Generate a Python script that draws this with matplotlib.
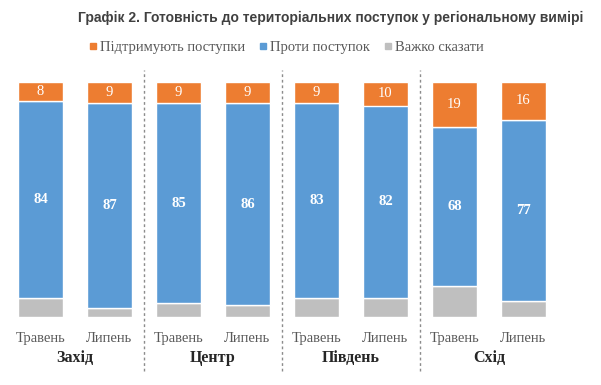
import matplotlib
matplotlib.use("Agg")
import matplotlib.pyplot as plt
from matplotlib.lines import Line2D

regions = ["Захід", "Центр", "Південь", "Схід"]
months = ["Травень", "Липень"]
support = [8, 9, 9, 9, 9, 10, 19, 16]
against = [84, 87, 85, 86, 83, 82, 68, 77]
hard = [8, 4, 6, 5, 8, 8, 13, 7]

c_support = "#ED7D31"
c_against = "#5B9BD5"
c_hard = "#BFBFBF"

fig = plt.figure(figsize=(6.01, 3.85), dpi=100)
ax = fig.add_axes([6 / 601, 68 / 385, 552 / 601, 235 / 385])
ax.set_xlim(-0.5, 7.5)
ax.set_ylim(0, 100)
ax.axis("off")

x = list(range(len(support)))
w = 0.65
ax.bar(x, hard, w, color=c_hard, edgecolor="white", linewidth=1)
bottom2 = hard
ax.bar(x, against, w, bottom=bottom2, color=c_against, edgecolor="white", linewidth=1)
bottom3 = [h + a for h, a in zip(hard, against)]
ax.bar(x, support, w, bottom=bottom3, color=c_support, edgecolor="white", linewidth=1)

for i in x:
    ax.text(i, hard[i] + against[i] / 2, str(against[i]), ha="center", va="center",
            color="white", fontsize=10.5, fontweight="bold", family="Liberation Serif")
    ax.text(i, bottom3[i] + support[i] / 2, str(support[i]), ha="center", va="center",
            color="white", fontsize=10.5, family="Liberation Serif")
    ax.text(i, -9, months[i % 2], ha="center", va="center", color="#595959",
            fontsize=10.5, family="Liberation Serif")

for g, name in enumerate(regions):
    ax.text(2 * g + 0.5, -17.5, name, ha="center", va="center", color="#262626",
            fontsize=11.5, fontweight="bold", family="Liberation Serif")

for sx in [1.5, 3.5, 5.5]:
    ax.plot([sx, sx], [-23, 105], color="#8C8C8C", linestyle=(0, (2, 2)), linewidth=1,
            clip_on=False)

fig.text(331 / 601, 1 - 18 / 385, "Графік 2. Готовність до територіальних поступок у регіональному вимірі",
         ha="center", va="center", fontsize=10, fontweight="bold", color="#404040",
         family="Liberation Sans")

handles = [Line2D([], [], marker="s", linestyle="", color=c, markersize=4)
           for c in [c_support, c_against, c_hard]]
fig.legend(handles, ["Підтримують поступки", "Проти поступок", "Важко сказати"],
           loc="center", bbox_to_anchor=(0.475, 1 - 47 / 385), ncol=3, frameon=False,
           handletextpad=0.1, columnspacing=0.8, handlelength=0.8,
           prop={"family": "Liberation Serif", "size": 10.5}, labelcolor="#595959")

fig.savefig("out.png", dpi=100)
